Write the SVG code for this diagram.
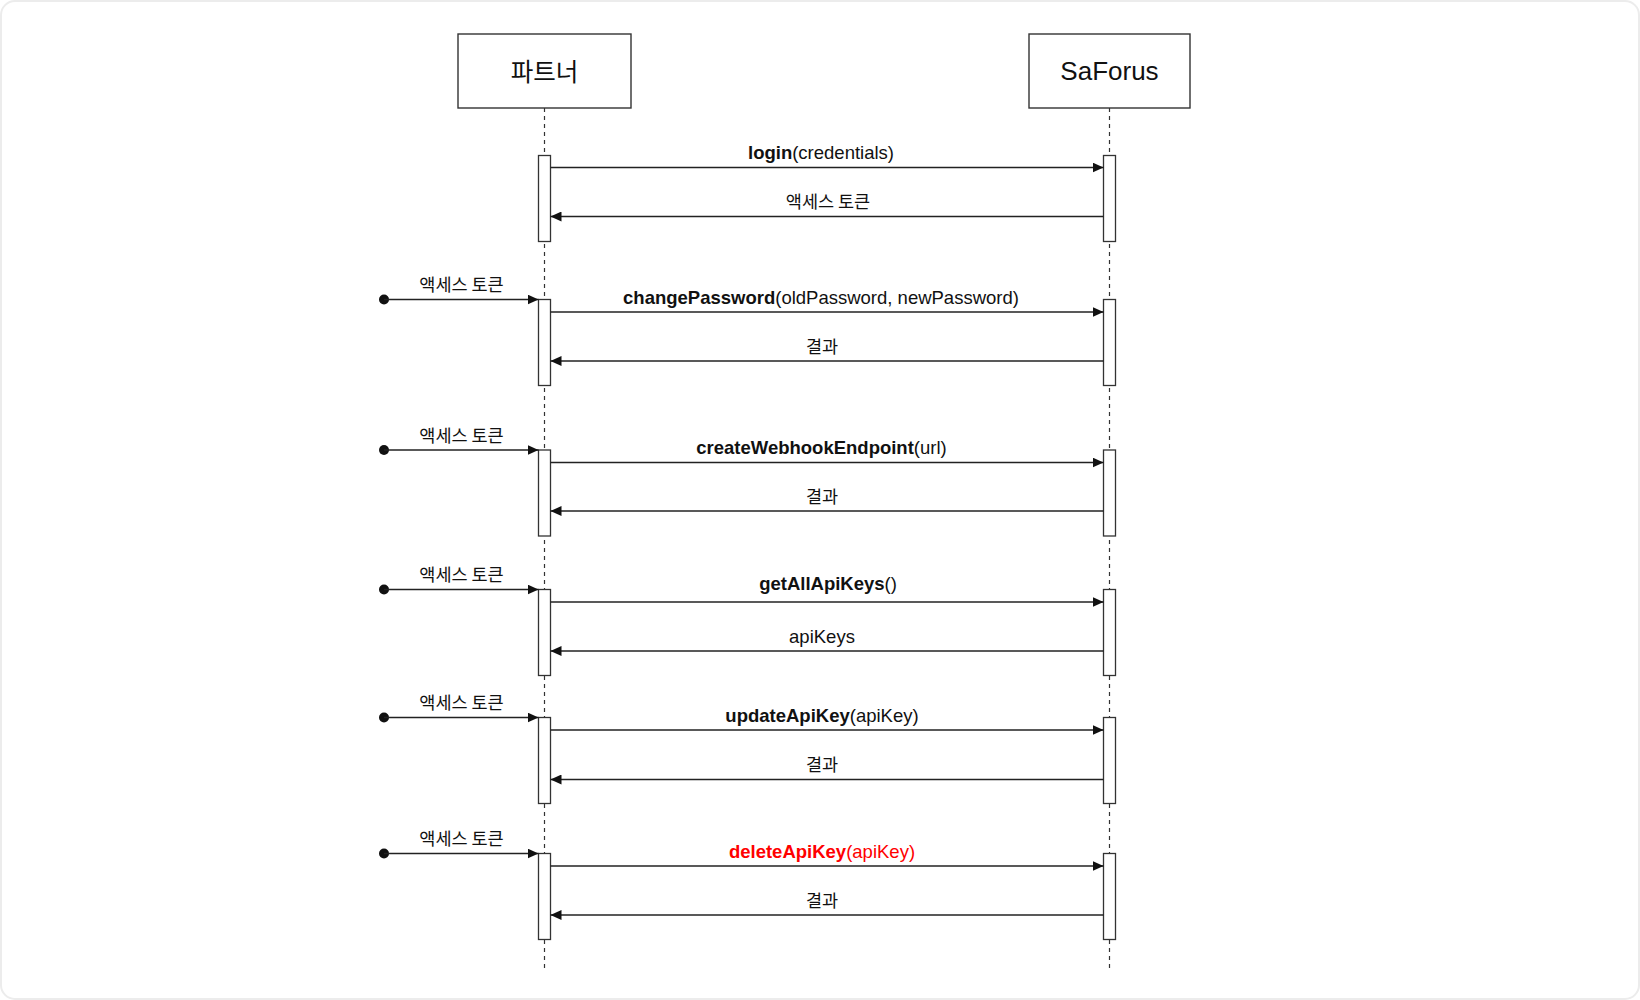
<svg xmlns="http://www.w3.org/2000/svg" width="1640" height="1000" viewBox="0 0 1640 1000">
<style>
.bg{fill:#ffffff;stroke:#ececec;stroke-width:2}
.actor{fill:#ffffff;stroke:#333333;stroke-width:1.4}
.life{stroke:#333333;stroke-width:1.2;stroke-dasharray:4 4;fill:none}
.bar{fill:#ffffff;stroke:#333333;stroke-width:1.3}
.msg{stroke:#222222;stroke-width:1.3;fill:none;marker-end:url(#ah)}
.lat{font-family:"Liberation Sans",Arial,sans-serif;font-size:18.5px;fill:#111111;text-anchor:middle}
.kor{font-family:"Noto Sans CJK KR","Liberation Sans",sans-serif;font-size:17.5px;fill:#111111;text-anchor:middle}
.b{font-weight:bold}
.red{fill:#ff0000}
</style>
<defs>
<marker id="ah" markerWidth="11" markerHeight="10" refX="11" refY="5" orient="auto" markerUnits="userSpaceOnUse">
<path d="M0,0 L11,5 L0,10 z" fill="#111111"/>
</marker>
</defs>
<rect class="bg" x="1" y="1" width="1638" height="998" rx="14" ry="14"/>

<g id="actor-partner">
<line class="life" x1="544.5" y1="108" x2="544.5" y2="970"/>
<rect class="actor" x="458" y="34" width="173" height="74"/>
<text x="544.5" y="80.5" font-family="Noto Sans CJK KR, Liberation Sans, sans-serif" font-size="24.5" fill="#111111" text-anchor="middle">파트너</text>
</g>
<g id="actor-saforus">
<line class="life" x1="1109.5" y1="108" x2="1109.5" y2="970"/>
<rect class="actor" x="1029" y="34" width="161" height="74"/>
<text x="1109.5" y="80" font-family="Liberation Sans, Arial, sans-serif" font-size="26" fill="#111111" text-anchor="middle">SaForus</text>
</g>

<g id="activations">
<rect class="bar" x="538.5" y="155.5" width="12" height="86"/>
<rect class="bar" x="1103.5" y="155.5" width="12" height="86"/>
<rect class="bar" x="538.5" y="299.5" width="12" height="86"/>
<rect class="bar" x="1103.5" y="299.5" width="12" height="86"/>
<rect class="bar" x="538.5" y="450" width="12" height="86"/>
<rect class="bar" x="1103.5" y="450" width="12" height="86"/>
<rect class="bar" x="538.5" y="589.5" width="12" height="86"/>
<rect class="bar" x="1103.5" y="589.5" width="12" height="86"/>
<rect class="bar" x="538.5" y="717.5" width="12" height="86"/>
<rect class="bar" x="1103.5" y="717.5" width="12" height="86"/>
<rect class="bar" x="538.5" y="853.5" width="12" height="86"/>
<rect class="bar" x="1103.5" y="853.5" width="12" height="86"/>
</g>

<g id="connectors">
<line class="msg" x1="550.5" y1="167.5" x2="1103.5" y2="167.5"/>
<line class="msg" x1="1103.5" y1="216.5" x2="550.5" y2="216.5"/>
<circle cx="384" cy="299.5" r="5" fill="#111111"/>
<line class="msg" x1="384" y1="299.5" x2="538.5" y2="299.5"/>
<line class="msg" x1="550.5" y1="312" x2="1103.5" y2="312"/>
<line class="msg" x1="1103.5" y1="361" x2="550.5" y2="361"/>
<circle cx="384" cy="450" r="5" fill="#111111"/>
<line class="msg" x1="384" y1="450" x2="538.5" y2="450"/>
<line class="msg" x1="550.5" y1="462.5" x2="1103.5" y2="462.5"/>
<line class="msg" x1="1103.5" y1="511" x2="550.5" y2="511"/>
<circle cx="384" cy="589.5" r="5" fill="#111111"/>
<line class="msg" x1="384" y1="589.5" x2="538.5" y2="589.5"/>
<line class="msg" x1="550.5" y1="602" x2="1103.5" y2="602"/>
<line class="msg" x1="1103.5" y1="651" x2="550.5" y2="651"/>
<circle cx="384" cy="717.5" r="5" fill="#111111"/>
<line class="msg" x1="384" y1="717.5" x2="538.5" y2="717.5"/>
<line class="msg" x1="550.5" y1="730" x2="1103.5" y2="730"/>
<line class="msg" x1="1103.5" y1="779.5" x2="550.5" y2="779.5"/>
<circle cx="384" cy="853.5" r="5" fill="#111111"/>
<line class="msg" x1="384" y1="853.5" x2="538.5" y2="853.5"/>
<line class="msg" x1="550.5" y1="866" x2="1103.5" y2="866"/>
<line class="msg" x1="1103.5" y1="915" x2="550.5" y2="915"/>
</g>

<g id="labels">
<text class="lat" x="821" y="159"><tspan class="b">login</tspan>(credentials)</text>
<text class="kor" x="828" y="208">액세스 토큰</text>

<text class="kor" x="461.5" y="291">액세스 토큰</text>
<text class="lat" x="821" y="304"><tspan class="b">changePassword</tspan>(oldPassword, newPassword)</text>
<text class="kor" x="822" y="352.5">결과</text>

<text class="kor" x="461.5" y="441.5">액세스 토큰</text>
<text class="lat" x="821.5" y="454"><tspan class="b">createWebhookEndpoint</tspan>(url)</text>
<text class="kor" x="822" y="502.5">결과</text>

<text class="kor" x="461.5" y="581">액세스 토큰</text>
<text class="lat" x="828" y="590"><tspan class="b">getAllApiKeys</tspan>()</text>
<text class="lat" x="822" y="643">apiKeys</text>

<text class="kor" x="461.5" y="709">액세스 토큰</text>
<text class="lat" x="822" y="722"><tspan class="b">updateApiKey</tspan>(apiKey)</text>
<text class="kor" x="822" y="771">결과</text>

<text class="kor" x="461.5" y="845">액세스 토큰</text>
<text class="lat red" x="822" y="858"><tspan class="b">deleteApiKey</tspan>(apiKey)</text>
<text class="kor" x="822" y="906.5">결과</text>
</g>
</svg>
